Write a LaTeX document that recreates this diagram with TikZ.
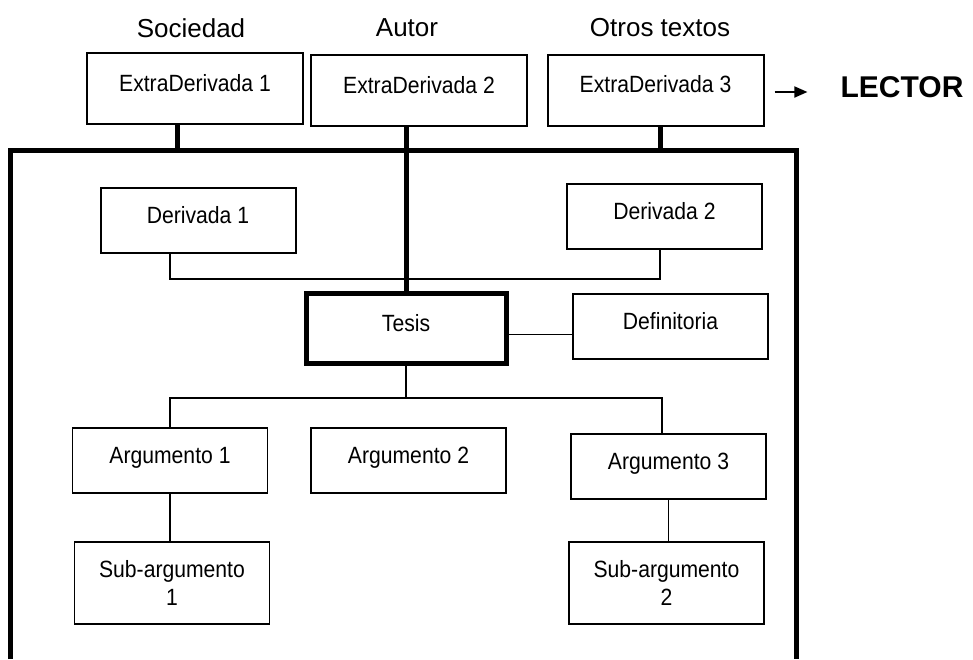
\documentclass[tikz,border=0pt]{standalone}
\usepackage{fontspec}
\setmainfont{Liberation Sans}
\newfontfamily\estrecha{Liberation Sans}[FakeStretch=0.9]
\usetikzlibrary{arrows.meta, positioning, calc}

\begin{document}
\begin{tikzpicture}[x=1pt, y=-1pt,
    cajabase/.style={draw, line width=1.2pt, minimum width=195pt, minimum height=65pt, inner sep=0pt},
    caja/.style={cajabase, font=\estrecha\fontsize{23.5}{28}\selectfont, text height=13pt, text depth=8pt},
    cajaD/.style={caja, line width=2pt},
    extra/.style={caja, line width=2pt, minimum width=216pt, minimum height=71pt},
    tesis/.style={caja, line width=5pt, minimum width=200pt, minimum height=70pt},
    sub/.style={cajabase, minimum height=82pt, align=center, font=\estrecha\fontsize{23.5}{28}\selectfont},
    cabecera/.style={font=\fontsize{26}{30}\selectfont},
    lector/.style={font=\bfseries\fontsize{30}{34}\selectfont, inner sep=2pt},
    linea/.style={line width=1.5pt},
    grueso/.style={line width=5pt}]
    \useasboundingbox (0,0) rectangle (973,659);

    % Fuentes externas
    \node[cabecera] (sociedad) at (191,28) {Sociedad};
    \node[cabecera] (autor) at (407,28) {Autor};
    \node[cabecera] (otros) at (660,28) {Otros textos};
    \node[extra] (ED1) at (195,88.5) {ExtraDerivada 1};
    \node[extra] (ED2) at (419,90.5) {ExtraDerivada 2};
    \node[extra] (ED3) at (655.5,90) {ExtraDerivada 3};
    \node[lector] (lector) at (902,87) {LECTOR};
    \draw[-{Triangle[length=13pt,width=11pt]}, line width=1.8pt, shorten <=10pt, shorten >=31pt]
        ([yshift=-2pt]ED3.east) -- ([yshift=-2pt]ED3.east -| lector.west);

    % Marco del texto
    \coordinate (marcoNO) at (10,150);
    \coordinate (marcoNE) at (796,150);
    \coordinate (marcoSO) at (10,659);
    \coordinate (marcoSE) at (796,659);
    \draw[grueso] (marcoSO) -- (marcoNO) -- (marcoNE) -- (marcoSE);

    % Cajas internas
    \node[cajaD] (D1) at (198,220.5) {Derivada 1};
    \node[cajaD] (D2) at (664.5,216.5) {Derivada 2};
    \node[tesis] (tesis) at (406,328.5) {Tesis};
    \node[caja] (defin) at (670.5,326.5) {Definitoria};
    \node[caja] (arg1) at (170,460.5) {Argumento 1};
    \node[caja] (arg2) at (408.5,460.5) {Argumento 2};
    \node[caja] (arg3) at (668.5,466.5) {Argumento 3};
    \node[sub] (sub1) at (172,583) {Sub-argumento\\1};
    \node[sub] (sub2) at (666.5,583) {Sub-argumento\\2};

    % Conexiones gruesas
    \draw[grueso] ([xshift=-18pt]ED1.south) -- ([xshift=-18pt]ED1.south |- marcoNO);
    \draw[grueso] ([xshift=4.5pt]ED3.south) -- ([xshift=4.5pt]ED3.south |- marcoNO);
    \draw[grueso] (tesis.north |- ED2.south) -- (tesis.north);

    % Conexiones finas
    \draw[linea] ([xshift=-28pt]D1.south) -- ++(0,25) -| ([xshift=-4.5pt]D2.south);
    \coordinate (rama) at (404,398);
    \draw[linea] (tesis.south) -- (tesis.south |- rama);
    \draw[linea] (arg1.north) |- (rama) -| ([xshift=-6.5pt]arg3.north);
    \draw[linea] ([yshift=-6pt]tesis.east) -- ([yshift=-6pt]tesis.east -| defin.west);
    \draw[linea] (arg1.south) -- (arg1.south |- sub1.north);
    \draw[linea] (arg3.south) -- (arg3.south |- sub2.north);
\end{tikzpicture}
\end{document}
